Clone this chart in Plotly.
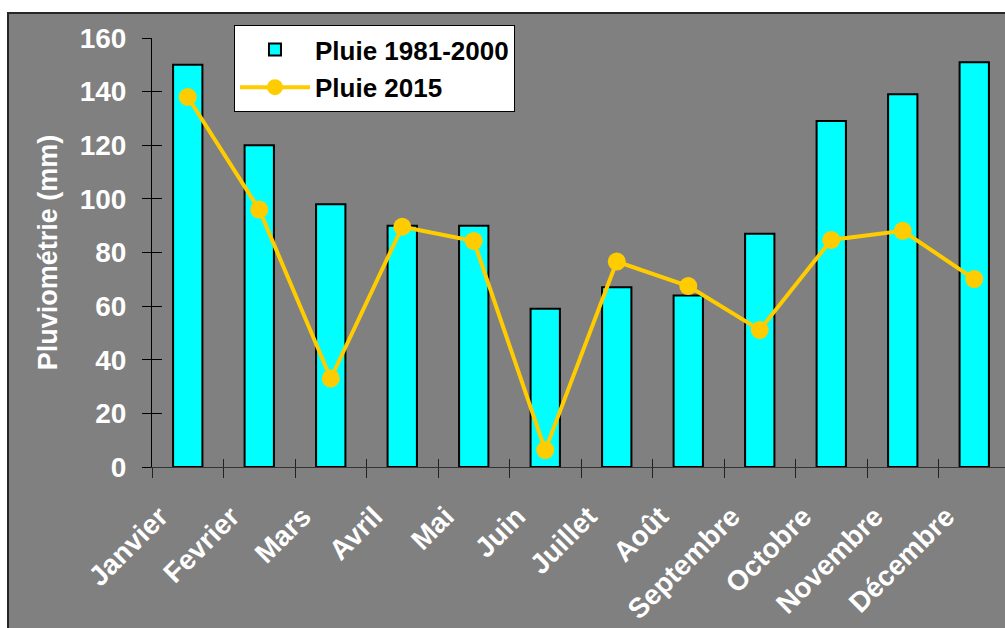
import plotly.graph_objects as go

months = ["Janvier", "Fevrier", "Mars", "Avril", "Mai", "Juin", "Juillet",
          "Août", "Septembre", "Octobre", "Novembre", "Décembre"]
pluie_1981_2000 = [150, 120, 98, 90, 90, 59, 67, 64, 87, 129, 139, 151]
pluie_2015 = [138, 96, 33, 89.6, 84.3, 6.3, 76.6, 67.5, 51.1, 84.7, 88.1, 70.1]
y_ticks = [0, 20, 40, 60, 80, 100, 120, 140, 160]

FONT = "Liberation Sans, Arial, sans-serif"
GRAY = "#808080"
XRANGE = [-0.5, 11.43]

fig = go.Figure()
fig.add_trace(go.Bar(
    x=months, y=pluie_1981_2000, name="Pluie 1981-2000", legendgroup="a",
    marker=dict(color="#00FFFF", line=dict(color="black", width=2)),
    width=0.41, xaxis="x", yaxis="y",
))
fig.add_trace(go.Scatter(
    x=months, y=pluie_2015, name="Pluie 2015", mode="lines+markers", legendgroup="b",
    line=dict(color="#FFCC00", width=4),
    marker=dict(color="#FFCC00", size=18),
    xaxis="x2", yaxis="y2",
))

tick_font = dict(family=FONT, size=28, color="white", weight="bold")
title_font = dict(family=FONT, size=27, color="white", weight="bold")

fig.update_layout(
    width=1005, height=628,
    margin=dict(l=152, r=0, t=38, b=161),
    paper_bgcolor="white",
    plot_bgcolor=GRAY,
    showlegend=True,
    legend=dict(
        x=0.0961, y=1.0303, xanchor="left", yanchor="top",
        bgcolor="white", bordercolor="black", borderwidth=1,
        font=dict(family=FONT, size=26, color="black", weight="bold"),
        traceorder="grouped", tracegroupgap=1, itemwidth=70,
    ),
    xaxis=dict(
        type="category", categoryarray=months, categoryorder="array",
        range=XRANGE, tickson="boundaries", ticks="outside", ticklen=10,
        tickcolor="#222", tickwidth=1, showline=True, linecolor="#333", linewidth=1,
        showgrid=False, zeroline=False, tickangle=-45,
        tickfont=tick_font, ticklabelstandoff=21, ticklabelshift=-28,
    ),
    xaxis2=dict(
        type="category", categoryarray=months, categoryorder="array",
        range=XRANGE, overlaying="x", anchor="y2", side="bottom",
        tickson="boundaries", ticks="inside", ticklen=8, tickcolor="#222",
        showticklabels=False, showline=False, showgrid=False, zeroline=False,
    ),
    yaxis=dict(
        range=[0, 160], tickvals=y_ticks, ticks="outside", ticklen=9,
        tickcolor="black", showline=True, linecolor="black", linewidth=1,
        showgrid=False, zeroline=False, tickfont=tick_font, ticklabelstandoff=10,
        title=dict(text="Pluviométrie (mm)", font=title_font, standoff=14),
    ),
    yaxis2=dict(
        range=[0, 160], tickvals=y_ticks, overlaying="y", anchor="x2", side="left",
        ticks="inside", ticklen=10, tickcolor="black",
        showticklabels=False, showline=False, showgrid=False, zeroline=False,
    ),
    shapes=[dict(
        type="rect", xref="paper", yref="paper",
        x0=-0.1688, x1=1.05, y0=-0.5, y1=1.0583,
        fillcolor=GRAY, line=dict(color="#262626", width=2), layer="below",
    )],
)

fig.write_html("out.html", config={"displayModeBar": False},
               post_script="document.body.style.margin='0px';")
